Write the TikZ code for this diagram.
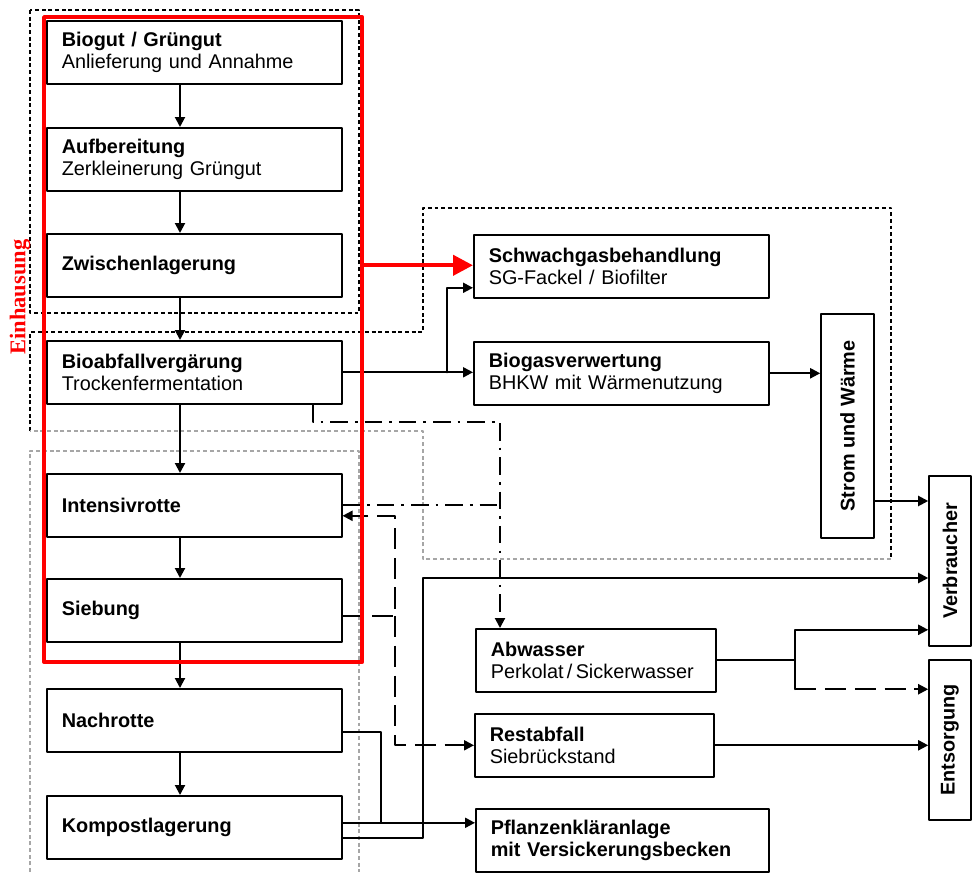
\documentclass[tikz,border=0pt]{standalone}
\usepackage{fontspec}
\usepackage{graphicx}
\setmainfont{Liberation Sans}
\newfontfamily\einhfont{Liberation Serif}
\usetikzlibrary{arrows.meta}

\begin{document}
\begin{tikzpicture}[line cap=round,line join=round,>={Triangle[length=2mm,width=2mm]},x=0.02cm,y=-0.02cm,
	stufe/.style={draw,line width=0.9pt,anchor=north west,align=left,inner xsep=0.3cm,minimum height=1.26cm,text width=5.3cm,font=\fontsize{11.3}{12.6}\selectfont},
	seite/.style={draw,line width=0.9pt,inner sep=0pt,font=\bfseries\fontsize{11.3}{12.6}\selectfont},
	fluss/.style={line width=1.15pt},
	strich/.style={line width=1.15pt,line cap=butt,dash pattern=on 12pt off 5pt},
	punktstrich/.style={line width=1.15pt,line cap=butt,dash pattern=on 10pt off 4pt on 1.5pt off 4pt},
	zone/.style={line width=0.6pt,line cap=butt,dash pattern=on 2.2pt off 1.6pt},
	einhline/.style={red,line width=2.4pt}]
	\useasboundingbox (0,0) rectangle (972,872);
	
	\draw[zone] (30,10) rectangle (359,313);
	\draw[zone] (30,431) -- (30,332) -- (423,332) -- (423,208) -- (891,208) -- (891,559);
	\draw[zone,gray!70] (891,559) -- (423,559) -- (423,431) -- (30,431);
	\draw[zone,gray!70] (30,872) -- (30,451) -- (359,451) -- (359,872);
	
	\node[stufe] (biogut) at (46,20) {\textbf{Biogut / Grüngut}\\Anlieferung und Annahme};
	\node[stufe] (aufb) at (46,127) {\textbf{Aufbereitung}\\Zerkleinerung Grüngut};
	\node[stufe] (zwl) at (46,233) {\textbf{Zwischenlagerung}};
	\node[stufe] (verg) at (46,340) {\textbf{Bioabfallvergärung}\\Trockenfermentation};
	\node[stufe] (intens) at (46,473) {\textbf{Intensivrotte}};
	\node[stufe] (sieb) at (46,578) {\textbf{Siebung}};
	\node[stufe] (nachr) at (46,688) {\textbf{Nachrotte}};
	\node[stufe] (kompost) at (46,795) {\textbf{Kompostlagerung}};
	
	\node[stufe] (schwach) at (473,234) {\textbf{Schwachgasbehandlung}\\SG-Fackel / Biofilter};
	\node[stufe] (biogas) at (473,341) {\textbf{Biogasverwertung}\\BHKW mit Wärmenutzung};
	\node[stufe,text width=4.2cm] (abw) at (475,628) {\textbf{Abwasser}\\Perkolat\,/\,Sickerwasser};
	\node[stufe,text width=4.18cm] (rest) at (474,713) {\textbf{Restabfall}\\Siebrückstand};
	\node[stufe,text width=5.26cm] (pflanz) at (475,808) {\textbf{Pflanzenkläranlage}\\\textbf{mit Versickerungsbecken}};
	
	\node[seite,minimum width=1.06cm,minimum height=4.48cm] (strom) at (847.5,426) {\rotatebox{90}{Strom und Wärme}};
	\node[seite,minimum width=0.84cm,minimum height=3.4cm] (verbr) at (950,561) {\rotatebox{90}{Verbraucher}};
	\node[seite,minimum width=0.84cm,minimum height=3.2cm] (entsorg) at (950,740) {\rotatebox{90}{Entsorgung}};
	
	\coordinate (spine) at (180,0);
	\coordinate (gasgabel) at (447,0);
	\coordinate (vergab) at (313,0);
	\coordinate (abwzu) at (500,0);
	\coordinate (siebzu) at (395,0);
	\coordinate (nachzu) at (381,0);
	\coordinate (kompzu) at (423,0);
	\coordinate (abwgabel) at (795,0);
	
	\coordinate (k1) at ([yshift=0.09cm]kompost.east);
	\coordinate (k2) at ([yshift=-0.21cm]kompost.east);
	\coordinate (n1) at ([yshift=-0.23cm]nachr.east);
	\coordinate (i2) at ([yshift=-0.21cm]intens.east);
	\coordinate (s2) at ([yshift=-0.11cm]sieb.east);
	\coordinate (v2) at ([yshift=-0.34cm]verbr.west);
	\coordinate (v3) at ([yshift=0.34cm]verbr.south west);
	\coordinate (e1) at ([yshift=-0.6cm]entsorg.north west);
	
	\foreach \a/\b in {biogut/aufb,aufb/zwl,zwl/verg,verg/intens,intens/sieb,sieb/nachr,nachr/kompost}
		\draw[fluss,->] (\a.south -| spine) -- (\b.north -| spine);
	
	\draw[fluss,->] (verg.east) -- (verg.east -| biogas.west);
	\draw[fluss,->] (verg.east -| gasgabel) |- ([yshift=-0.43cm]schwach.west);
	\draw[fluss,->] (biogas.east) -- (biogas.east -| strom.west);
	\draw[fluss,->] ([yshift=-1.5cm]strom.east) coordinate (s1) -- (s1 -| verbr.west);
	
	\draw[punktstrich,->] (verg.south -| vergab) -- ++(0,17) -| (abw.north -| abwzu);
	\draw[punktstrich] (intens.east) -- (intens.east -| abwzu);
	\draw[strich,->] (s2) -| (i2 -| siebzu) -- (i2);
	\draw[strich,->] (s2 -| siebzu) |- (rest.west);
	
	\draw[fluss,->] (k1) -- (k1 -| pflanz.west);
	\draw[fluss] (n1) -| (k1 -| nachzu);
	\draw[fluss,->] (k2) -| (v2 -| kompzu) -- (v2);
	
	\draw[fluss] (abw.east) -- (abw.east -| abwgabel);
	\draw[fluss,->] (e1 -| abwgabel) -- (v3 -| abwgabel) -- (v3);
	\draw[strich,->] (e1 -| abwgabel) -- (e1);
	\draw[fluss,->] (rest.east) -- (rest.east -| entsorg.west);
	
	\node[draw=red,line width=2.4pt,anchor=north west,minimum width=6.36cm,minimum height=12.9cm,inner sep=0pt] (einh) at (42,15) {};
	\node[rotate=90,text=red,font=\einhfont\bfseries\fontsize{12.8}{14}\selectfont] (einhtext) at (20,297) {Einhausung};
	\draw[einhline,->,>={Triangle[length=4mm,width=4mm]}] (einh.east |- zwl.east) -- (zwl.east -| schwach.west);
\end{tikzpicture}
\end{document}
